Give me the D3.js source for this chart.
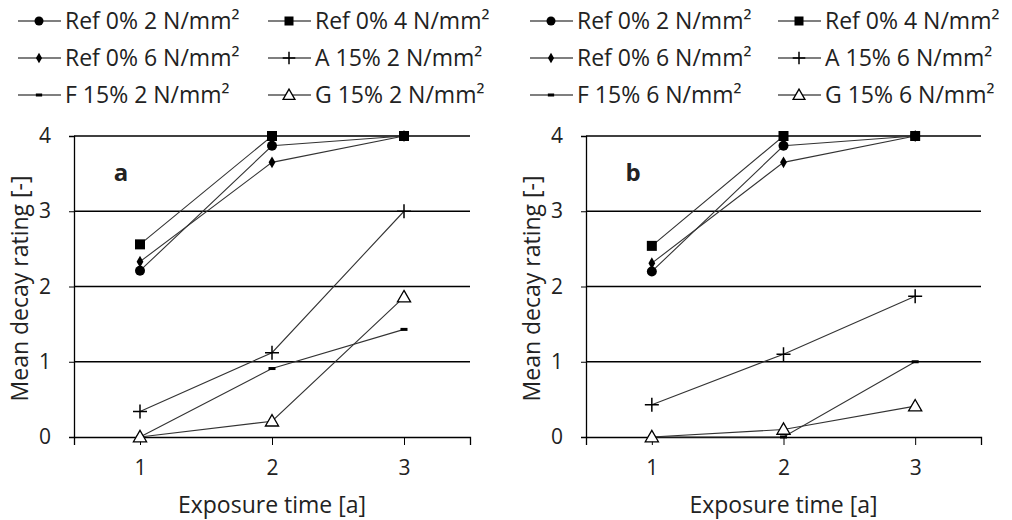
<!DOCTYPE html>
<html>
<head>
<meta charset="utf-8">
<script src="https://cdn.jsdelivr.net/npm/d3@7"></script>
<style>
  body { margin: 0; background: #fff; }
  text { font-family: "Open Sans", "Noto Sans", sans-serif; fill: #222; }
</style>
</head>
<body>
<div id="chart"></div>
<script>
// x categories and y ticks
const years = [1, 2, 3]
const yTicks = [0, 1, 2, 3, 4]

// legend labels
const labelsA = ['Ref 0% 2 N/mm²', 'Ref 0% 4 N/mm²', 'Ref 0% 6 N/mm²', 'A 15% 2 N/mm²', 'F 15% 2 N/mm²', 'G 15% 2 N/mm²']
const labelsB = ['Ref 0% 2 N/mm²', 'Ref 0% 4 N/mm²', 'Ref 0% 6 N/mm²', 'A 15% 6 N/mm²', 'F 15% 6 N/mm²', 'G 15% 6 N/mm²']
const markers = ['circle', 'square', 'diamond', 'plus', 'dash', 'triangle']

// panel a values
const aRef2 = [2.21, 3.87, 4.0]
const aRef4 = [2.56, 4.0, 4.0]
const aRef6 = [2.33, 3.65, 4.0]
const aA = [0.34, 1.12, 3.0]
const aF = [0.0, 0.91, 1.43]
const aG = [0.0, 0.21, 1.86]

// panel b values
const bRef2 = [2.2, 3.87, 4.0]
const bRef4 = [2.54, 4.0, 4.0]
const bRef6 = [2.31, 3.65, 4.0]
const bA = [0.43, 1.1, 1.87]
const bF = [0.0, 0.0, 1.0]
const bG = [0.0, 0.1, 0.41]

const width = 1012
const height = 520

const svg = d3.select('#chart')
  .append('svg')
  .attr('width', width)
  .attr('height', height)

function drawMarker (g, type, x, y, s) {
  s = s || 1
  if (type === 'circle') {
    g.append('circle').attr('cx', x).attr('cy', y).attr('r', 5 * s).attr('fill', '#000')
  } else if (type === 'square') {
    g.append('rect').attr('x', x - 5 * s).attr('y', y - 5 * s).attr('width', 10 * s).attr('height', 10 * s).attr('fill', '#000')
  } else if (type === 'diamond') {
    g.append('path').attr('d', d3.symbol(d3.symbolDiamond, 40 * s * s)()).attr('transform', `translate(${x},${y})`).attr('fill', '#000')
  } else if (type === 'plus') {
    g.append('path').attr('d', `M${x - 7 * s},${y}H${x + 7 * s}M${x},${y - 7 * s}V${y + 7 * s}`).attr('stroke', '#000').attr('stroke-width', 1.5)
  } else if (type === 'dash') {
    g.append('rect').attr('x', x - 3.5 * s).attr('y', y - 1.5).attr('width', 7 * s).attr('height', 3).attr('fill', '#000')
  } else if (type === 'triangle') {
    g.append('path').attr('d', d3.symbol(d3.symbolTriangle, 75 * s * s)()).attr('transform', `translate(${x},${y + 1})`).attr('fill', '#fff').attr('stroke', '#000').attr('stroke-width', 1.3)
  }
}

function drawPanel (opts) {
  const { left, right, labels, series, letter, legendX } = opts
  const top = 136
  const bottom = 437

  const x = d3.scaleLinear().domain([0.5, 3.5]).range([left, right])
  const y = d3.scaleLinear().domain([0, 4]).range([bottom, top])

  const g = svg.append('g')

  // gridlines
  g.selectAll('.grid')
    .data(yTicks.filter(d => d > 0))
    .enter()
    .append('line')
    .attr('x1', left).attr('x2', right)
    .attr('y1', d => y(d)).attr('y2', d => y(d))
    .attr('stroke', '#000').attr('stroke-width', 1.3)

  // y axis
  const yAxis = g.append('g')
    .attr('transform', `translate(${left},0)`)
    .call(d3.axisLeft(y).tickValues(yTicks).tickSize(5).tickPadding(18).tickFormat(d3.format('d')))
  yAxis.select('.domain').attr('stroke', '#000').attr('stroke-width', 1.3)
  yAxis.selectAll('.tick text').style('font-size', '21px').style('font-family', '"Open Sans", sans-serif').attr('fill', '#222')

  // x axis
  const xAxis = g.append('g')
    .attr('transform', `translate(0,${bottom})`)
    .call(d3.axisBottom(x).tickValues(years.concat([3.5])).tickSize(8).tickPadding(15).tickFormat(d => d === 3.5 ? '' : d))
  xAxis.select('.domain').attr('stroke', '#000').attr('stroke-width', 1.3)
  xAxis.selectAll('.tick text').style('font-size', '21px').style('font-family', '"Open Sans", sans-serif').attr('fill', '#222')

  // axis titles
  g.append('text')
    .attr('transform', `translate(${left - 54},${(top + bottom) / 2 + 2}) rotate(-90)`)
    .attr('text-anchor', 'middle')
    .attr('dy', '0.35em')
    .style('font-size', '23px')
    .text('Mean decay rating [-]')
  g.append('text')
    .attr('x', (left + right) / 2)
    .attr('y', 513)
    .attr('text-anchor', 'middle')
    .style('font-size', '23px')
    .text('Exposure time [a]')

  // panel letter
  g.append('text')
    .attr('x', left + 47)
    .attr('y', 181)
    .attr('text-anchor', 'middle')
    .style('font-size', '24px')
    .style('font-weight', 'bold')
    .text(letter)

  const line = d3.line().x((d, i) => x(years[i])).y(d => y(d))

  series.forEach(vals => {
    g.append('path')
      .datum(vals)
      .attr('d', line)
      .attr('fill', 'none')
      .attr('stroke', '#333')
      .attr('stroke-width', 1.1)
  })
  series.forEach((vals, k) => {
    vals.forEach((v, i) => drawMarker(g, markers[k], x(years[i]), y(v)))
  })

  // legend
  const rows = [21, 58, 95]
  labels.forEach((lab, k) => {
    const lx = legendX[k % 2]
    const ly = rows[Math.floor(k / 2)]
    g.append('line')
      .attr('x1', lx).attr('x2', lx + 43)
      .attr('y1', ly).attr('y2', ly)
      .attr('stroke', '#000').attr('stroke-width', 1.2)
    drawMarker(g, markers[k], lx + 21, ly, 0.9)
    g.append('text')
      .attr('x', lx + 47)
      .attr('y', ly)
      .attr('dy', '0.36em')
      .style('font-size', '23px')
      .text(lab)
  })
}

drawPanel({
  left: 74, right: 470,
  labels: labelsA,
  series: [aRef2, aRef4, aRef6, aA, aF, aG],
  letter: 'a',
  legendX: [18, 268]
})

drawPanel({
  left: 586, right: 981,
  labels: labelsB,
  series: [bRef2, bRef4, bRef6, bA, bF, bG],
  letter: 'b',
  legendX: [530, 778]
})
</script>
</body>
</html>
